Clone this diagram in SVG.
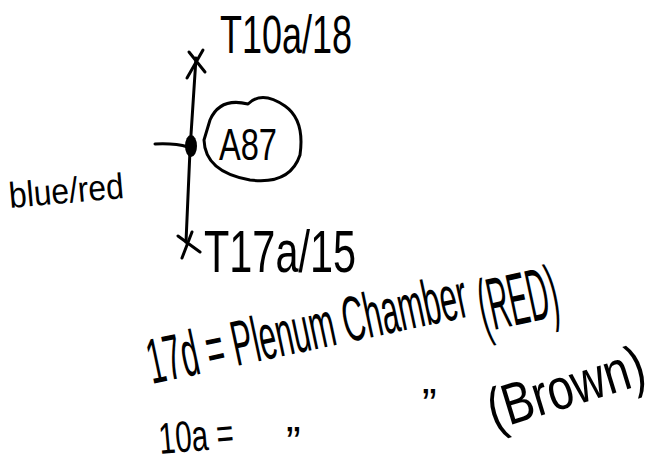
<svg xmlns="http://www.w3.org/2000/svg" width="662" height="462" viewBox="0 0 662 462">
<style>
.t{font-family:"Liberation Sans","DejaVu Sans",sans-serif;fill:#000}
.s{fill:none;stroke:#000;stroke-width:3;stroke-linecap:round;stroke-linejoin:round}
</style>
<rect width="662" height="462" fill="#fff"/>
<g id="connectors">
<path class="s" d="M196,58 L190,150 L186,242"/>
<path class="s" d="M155,144 Q175,143 188,147"/>
<path class="s" d="M189,52 L205,72 M203,50 L187,78"/>
<path class="s" d="M178,236 L200,252 M192,232 L182,258"/>
</g>
<g id="junction"><ellipse cx="191" cy="146" rx="6" ry="11" fill="#000"/></g>
<g id="a87">
<path class="s" d="M210,120 Q220,97 248,104 Q262,90 285,106 Q305,120 300,155 Q290,185 250,180 Q205,172 204,140 Z"/>
<text class="t" x="219" y="160" font-size="44" textLength="58" lengthAdjust="spacingAndGlyphs">A87</text>
</g>
<g id="t10a"><text class="t" x="220" y="53" font-size="54" textLength="132" lengthAdjust="spacingAndGlyphs">T10a/18</text></g>
<g id="t17a"><text class="t" x="204" y="272" font-size="60" textLength="152" lengthAdjust="spacingAndGlyphs">T17a/15</text></g>
<g id="bluered"><text class="t" x="10" y="208" font-size="36" textLength="115" lengthAdjust="spacingAndGlyphs" transform="rotate(-5 10 208)">blue/red</text></g>
<g id="legend">
<text class="t" x="152" y="384" font-size="64" textLength="326" lengthAdjust="spacingAndGlyphs" transform="rotate(-12 152 384)">17d = Plenum Chamber</text>
<text class="t" x="484" y="332" font-size="74" textLength="80" lengthAdjust="spacingAndGlyphs" transform="rotate(-12 484 332)">(RED)</text>
<text class="t" x="494" y="430" font-size="58" textLength="162" lengthAdjust="spacingAndGlyphs" transform="rotate(-17 494 430)">(Brown)</text>
<text class="t" x="160" y="454" font-size="44" textLength="75" lengthAdjust="spacingAndGlyphs" transform="rotate(-5 160 454)">10a =</text>
<text class="t" x="286" y="458" font-size="44">”</text>
<text class="t" x="422" y="420" font-size="44">”</text>
</g>
</svg>
